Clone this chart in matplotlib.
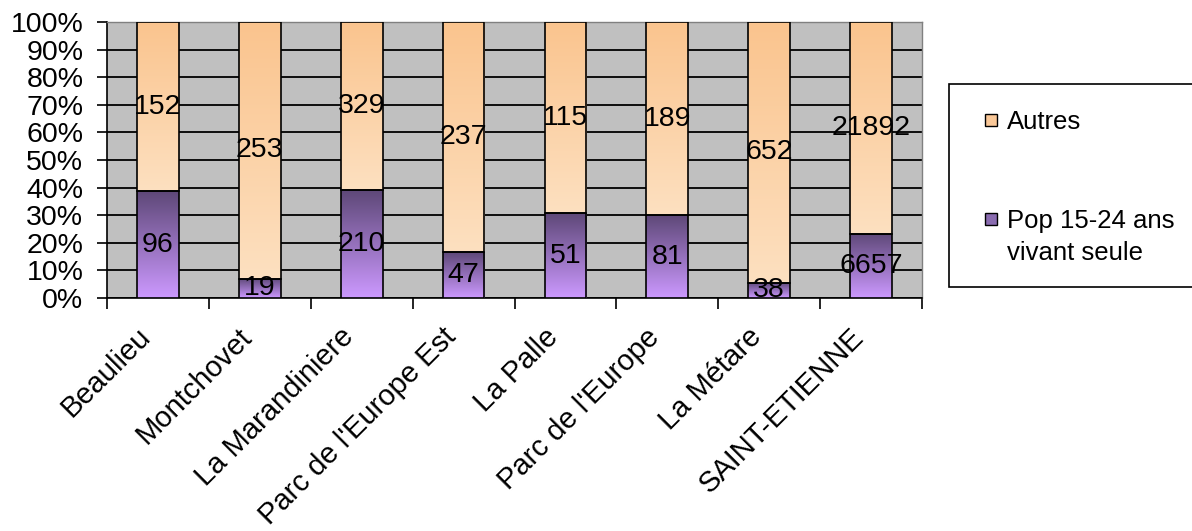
import numpy as np
import matplotlib
matplotlib.use("Agg")
import matplotlib.pyplot as plt
from matplotlib.colors import LinearSegmentedColormap
from matplotlib.patches import Rectangle
from matplotlib.ticker import PercentFormatter, FixedLocator
from matplotlib.transforms import ScaledTranslation

plt.rcParams["font.family"] = ["Liberation Sans", "DejaVu Sans"]

quartiers = ["Beaulieu", "Montchovet", "La Marandiniere", "Parc de l'Europe Est",
             "La Palle", "Parc de l'Europe", "La Métare", "SAINT-ETIENNE"]
pop_seule = [96, 19, 210, 47, 51, 81, 38, 6657]
autres = [152, 253, 329, 237, 115, 189, 652, 21892]
series_names = ["Autres", "Pop 15-24 ans\nvivant seule"]

pop = np.array(pop_seule, float)
aut = np.array(autres, float)
tot = pop + aut
p_pop, p_aut = pop / tot, aut / tot

# vertical gradients: first colour at the bottom of the segment
cmap_pop = LinearSegmentedColormap.from_list("pop", ["#cc99ff", "#5e4878"])
cmap_aut = LinearSegmentedColormap.from_list("aut", ["#fde0c0", "#fac48e"])

fig = plt.figure(figsize=(11.92, 5.31), dpi=100)
ax = fig.add_axes([107 / 1192, 1 - 298 / 531, 815 / 1192, 276 / 531])
ax.set_facecolor("#c0c0c0")

x = np.arange(len(quartiers))
width = 0.41
grad = np.linspace(0, 1, 256).reshape(-1, 1)


def gradient_bars(heights, bottoms, cmap):
    bars = ax.bar(x, heights, width, bottom=bottoms, facecolor="none",
                  edgecolor="black", lw=1.2, zorder=4)
    for b in bars:
        x0, y0 = b.get_x(), b.get_y()
        im = ax.imshow(grad, cmap=cmap, origin="lower", aspect="auto",
                       extent=(x0, x0 + b.get_width(), y0, y0 + b.get_height()),
                       zorder=3)
        im.set_clip_path(b)
    return bars


gradient_bars(p_pop, 0, cmap_pop)
gradient_bars(p_aut, p_pop, cmap_aut)

for i in range(len(quartiers)):
    ax.text(x[i], p_pop[i] / 2, f"{pop_seule[i]}", ha="center", va="center",
            fontsize=20.5, zorder=5)
    ax.text(x[i], p_pop[i] + p_aut[i] / 2, f"{autres[i]}", ha="center",
            va="center", fontsize=20.5, zorder=5)

ax.set_xlim(-0.5, len(quartiers) - 0.5)
ax.set_ylim(0, 1)
ax.set_yticks(np.arange(0, 1.01, 0.1))
ax.yaxis.set_major_formatter(PercentFormatter(1.0, decimals=0))
ax.yaxis.grid(True, color="black", lw=1.3)
ax.set_axisbelow(True)

ax.xaxis.set_major_locator(FixedLocator(np.arange(-0.5, len(quartiers), 1.0)))
ax.xaxis.set_major_formatter(plt.NullFormatter())
ax.set_xticks(x, minor=True)
ax.set_xticklabels(quartiers, minor=True, rotation=45, ha="right", va="center",
                   rotation_mode="anchor", fontsize=21)
ax.tick_params(axis="x", which="minor", length=0, pad=30)
ax.tick_params(axis="x", which="major", length=8, width=1.2, direction="out")
ax.tick_params(axis="y", length=7, width=1.2, labelsize=20.5, pad=10)

# nudge the slanted category names up and to the left
shift = ScaledTranslation(-0.12, 0.07, fig.dpi_scale_trans)
for lab in ax.get_xticklabels(minor=True):
    lab.set_transform(lab.get_transform() + shift)

for s in ("left", "bottom"):
    ax.spines[s].set_color("black")
    ax.spines[s].set_linewidth(1.2)
for s in ("top", "right"):
    ax.spines[s].set_color("#808080")
    ax.spines[s].set_linewidth(1.0)

# legend box, drawn by hand so it can run off the right edge
fig.add_artist(Rectangle((949 / 1192, 1 - 287 / 531), 260 / 1192, 203 / 531,
                         transform=fig.transFigure, facecolor="white",
                         edgecolor="black", lw=1.2, clip_on=False))
swatches = [("#fac898", 120, 122), ("#8a6cb0", 219, 237)]
for (col, ys, yt), name in zip(swatches, series_names):
    fig.add_artist(Rectangle((985 / 1192, 1 - (ys + 6) / 531), 12 / 1192, 12 / 531,
                             transform=fig.transFigure, facecolor=col,
                             edgecolor="black", lw=1.0))
    fig.text(1007 / 1192, 1 - yt / 531, name, ha="left", va="center",
             fontsize=18.5, linespacing=1.45)

fig.savefig("out.png", dpi=100)
